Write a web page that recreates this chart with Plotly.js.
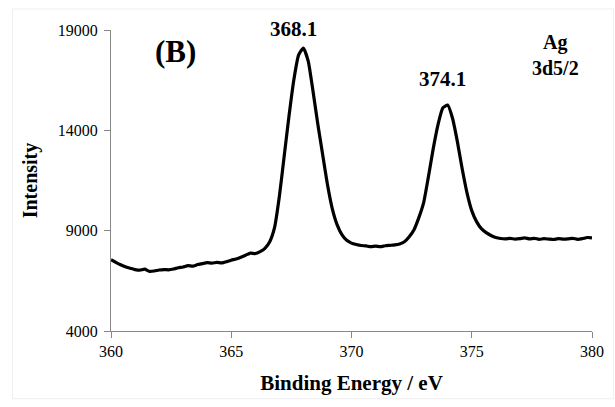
<!DOCTYPE html>
<html>
<head>
<meta charset="utf-8">
<script src="https://cdn.plot.ly/plotly-3.0.1.min.js"></script>
<style>html,body{margin:0;padding:0;background:#fff;}#chart{width:615px;height:407px;}</style>
</head>
<body>
<div id="chart"></div>
<script>
const bindingEnergy = [
360.0,360.2,360.4,360.6,360.8,361.0,361.2,361.4,361.6,361.8,
362.0,362.2,362.4,362.6,362.8,363.0,363.2,363.4,363.6,363.8,
364.0,364.2,364.4,364.6,364.8,365.0,365.2,365.4,365.6,365.8,
366.0,366.2,366.4,366.6,366.8,367.0,367.2,367.4,367.6,367.8,
368.0,368.2,368.4,368.6,368.8,369.0,369.2,369.4,369.6,369.8,
370.0,370.2,370.4,370.6,370.8,371.0,371.2,371.4,371.6,371.8,
372.0,372.2,372.4,372.6,372.8,373.0,373.2,373.4,373.6,373.8,
374.0,374.2,374.4,374.6,374.8,375.0,375.2,375.4,375.6,375.8,
376.0,376.2,376.4,376.6,376.8,377.0,377.2,377.4,377.6,377.8,
378.0,378.2,378.4,378.6,378.8,379.0,379.2,379.4,379.6,379.8,380.0];
const intensity = [
7550,7420,7300,7200,7130,7060,7030,7080,6970,6990,
7040,7060,7050,7090,7150,7190,7260,7230,7310,7360,
7410,7380,7420,7390,7450,7530,7590,7680,7780,7880,
7860,7960,8120,8450,9150,10700,12700,14700,16500,17750,
18100,17450,15950,14300,12800,11300,10100,9300,8800,8520,
8380,8310,8260,8240,8200,8230,8200,8250,8270,8290,
8340,8450,8700,9050,9650,10400,11700,13100,14300,15120,
15260,14600,13450,12100,10900,10000,9450,9100,8900,8760,
8660,8610,8590,8620,8580,8600,8640,8590,8620,8570,
8600,8580,8560,8600,8580,8590,8620,8570,8600,8660,8640];
const xTicks = [360,365,370,375,380];
const yTicks = [4000,9000,14000,19000];
const peakLabels = ["368.1","374.1"];
const panelLabel = "(B)";
const elementLabel = ["Ag","3d5/2"];

const serif = "Liberation Serif, Times New Roman, serif";
const trace = {
  x: bindingEnergy, y: intensity, type: "scatter", mode: "lines",
  line: {color: "#000", width: 3.2, shape: "spline", smoothing: 0.5},
  hoverinfo: "skip"
};
const layout = {
  width: 615, height: 407,
  margin: {l: 111, r: 23, t: 30, b: 76},
  paper_bgcolor: "#fff", plot_bgcolor: "#fff",
  showlegend: false,
  xaxis: {
    range: [360, 380], tickvals: xTicks, ticktext: xTicks.map(String),
    showgrid: false, zeroline: false, showline: true, linecolor: "#888", linewidth: 1,
    ticks: "outside", ticklen: 6, tickcolor: "#888",
    tickfont: {family: serif, size: 16, color: "#000"},
    title: {text: "<b>Binding Energy / eV</b>", font: {family: serif, size: 21, color: "#000"}, standoff: 16}
  },
  yaxis: {
    range: [4000, 19000], tickvals: yTicks, ticktext: yTicks.map(String),
    showgrid: false, zeroline: false, showline: true, linecolor: "#888", linewidth: 1,
    ticks: "outside", ticklen: 6, tickcolor: "#888", ticklabelstandoff: 3,
    tickfont: {family: serif, size: 16, color: "#000"},
    title: {text: "<b>Intensity</b>", font: {family: serif, size: 20, color: "#000"}, standoff: 14}
  },
  annotations: [
    {x: 362.7, y: 17950, xref: "x", yref: "y", text: "<b>" + panelLabel + "</b>", showarrow: false, font: {family: serif, size: 31, color: "#000"}},
    {x: 367.6, y: 19000, xref: "x", yref: "y", yshift: 1, text: "<b>" + peakLabels[0] + "</b>", showarrow: false, font: {family: serif, size: 21, color: "#000"}},
    {x: 373.8, y: 16550, xref: "x", yref: "y", text: "<b>" + peakLabels[1] + "</b>", showarrow: false, font: {family: serif, size: 21, color: "#000"}},
    {x: 378.45, y: 18400, xref: "x", yref: "y", text: "<b>" + elementLabel[0] + "</b>", showarrow: false, font: {family: serif, size: 20, color: "#000"}},
    {x: 378.5, y: 17100, xref: "x", yref: "y", text: "<b>" + elementLabel[1] + "</b>", showarrow: false, font: {family: serif, size: 20, color: "#000"}}
  ],
  shapes: [
    {type: "rect", xref: "paper", yref: "paper", x0: -0.205, x1: 1.045, y0: -0.225, y1: 1.07, line: {color: "#efefef", width: 1}, layer: "below"}
  ]
};
Plotly.newPlot("chart", [trace], layout, {staticPlot: true, displayModeBar: false});
</script>
</body>
</html>
